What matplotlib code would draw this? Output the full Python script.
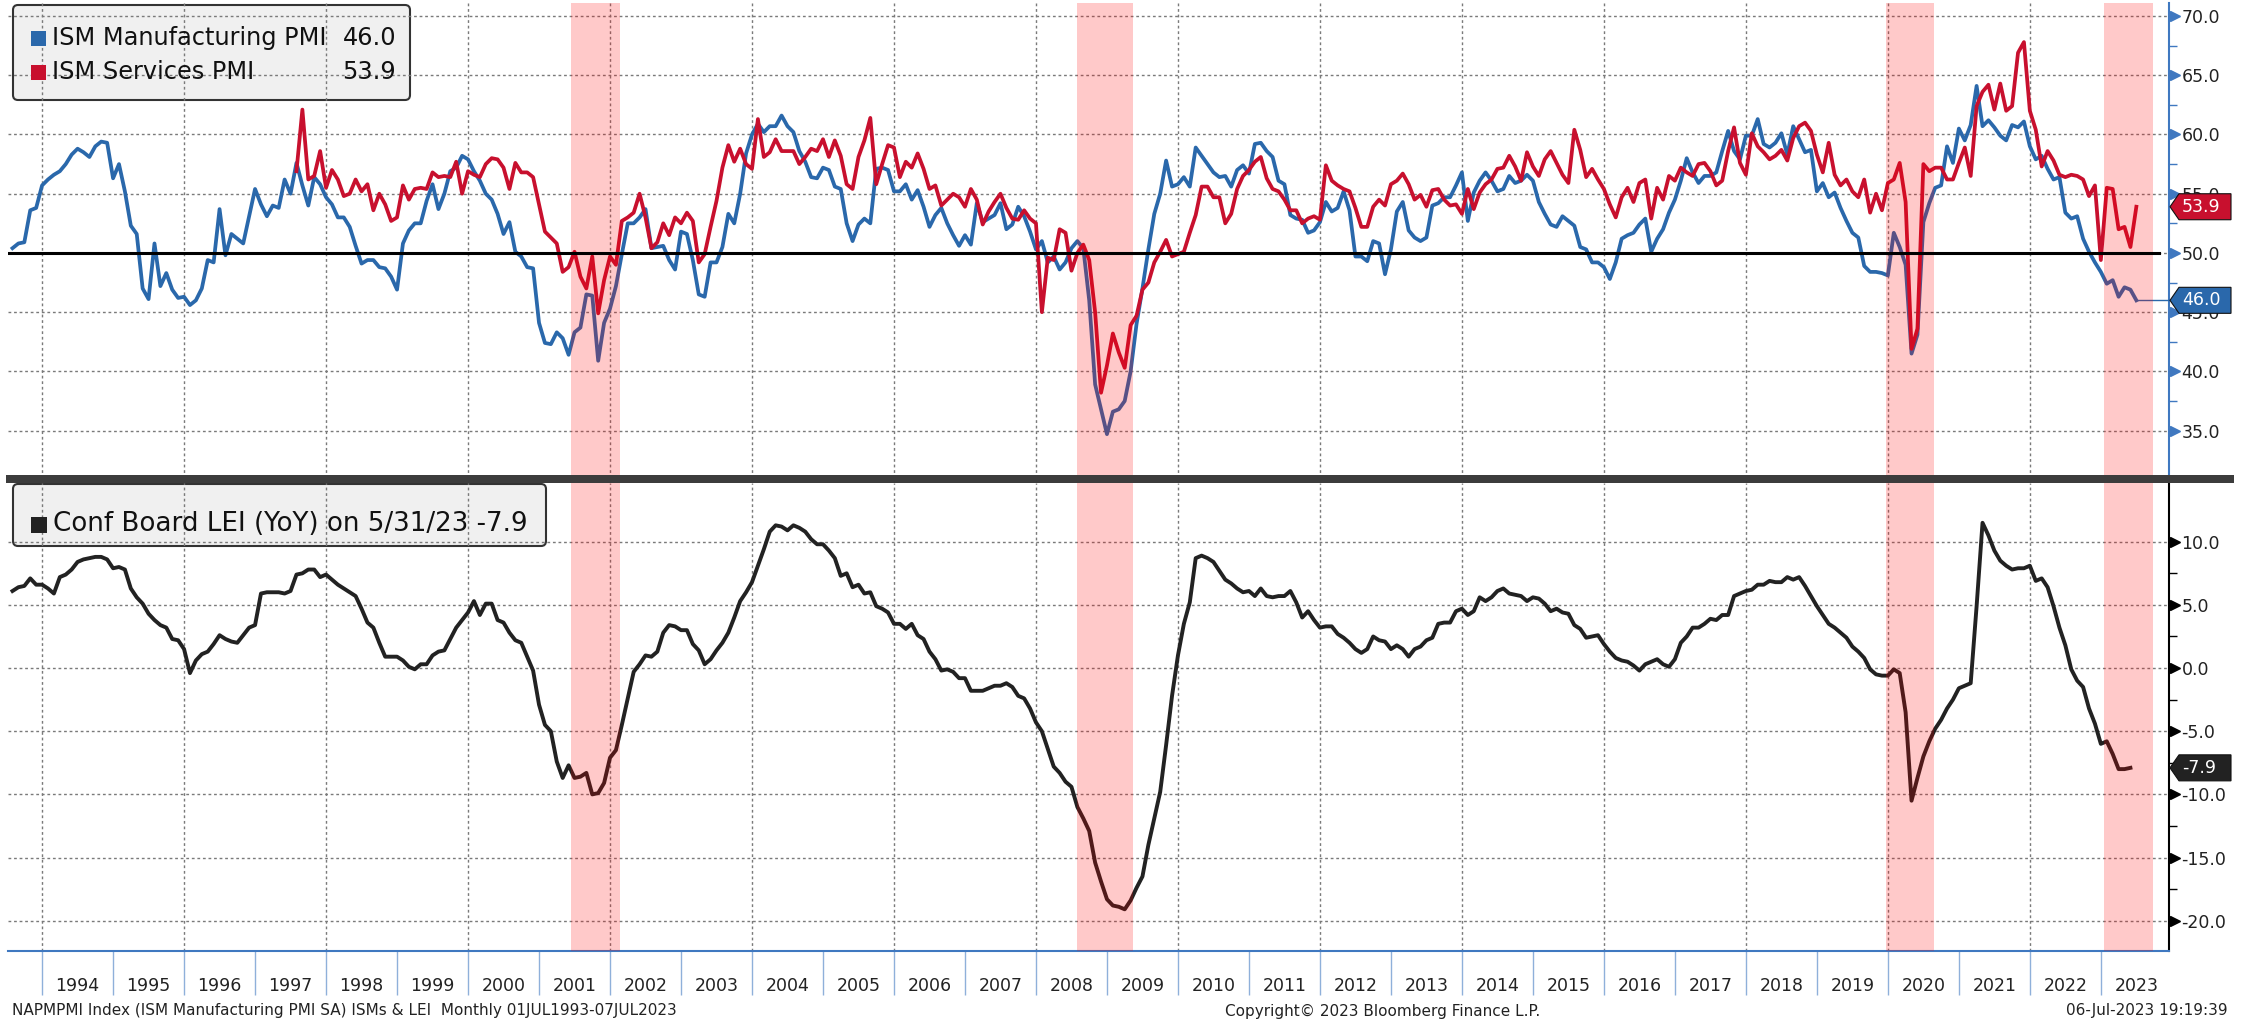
import numpy as np
import matplotlib.pyplot as plt
import matplotlib.transforms as mtransforms
from matplotlib.patches import Polygon, Rectangle, FancyBboxPatch

plt.rcParams['font.family'] = 'DejaVu Sans'
plt.rcParams['axes.unicode_minus'] = False

# monthly data, first point = Jul 1993
start = 1993 + 7 / 12.0

mfg = [50.4, 50.8, 50.9, 53.6, 53.8, 55.7, 56.2, 56.6, 56.9, 57.5, 58.3, 58.8, 58.5, 58.1, 59.0, 59.4,
       59.3, 56.3, 57.5, 55.2, 52.3, 51.6, 47.0, 46.1, 50.8, 47.2, 48.3, 46.9, 46.2, 46.3, 45.6, 46.0,
       47.0, 49.4, 49.2, 53.7, 49.8, 51.6, 51.2, 50.8, 53.1, 55.4, 54.1, 53.1, 54.0, 53.8, 56.2, 55.0,
       57.6, 55.7, 54.0, 56.4, 55.8, 54.7, 54.1, 53.0, 53.0, 52.2, 50.6, 49.1, 49.4, 49.4, 48.8, 48.7,
       48.0, 46.9, 50.8, 51.9, 52.5, 52.5, 54.4, 55.8, 53.7, 55.0, 56.9, 57.2, 58.2, 57.9, 56.9, 56.1,
       55.0, 54.5, 53.3, 51.6, 52.6, 50.1, 49.7, 48.8, 48.7, 44.1, 42.4, 42.3, 43.3, 42.8, 41.4, 43.3,
       43.7, 46.5, 46.4, 40.9, 44.1, 45.3, 47.2, 49.9, 52.5, 52.5, 53.0, 53.7, 50.4, 50.5, 50.6, 49.4,
       48.6, 51.8, 51.6, 49.4, 46.5, 46.3, 49.2, 49.2, 50.5, 53.3, 52.5, 55.0, 58.4, 60.0, 60.9, 60.2,
       60.7, 60.7, 61.6, 60.7, 60.2, 58.6, 57.7, 56.4, 56.3, 57.2, 57.0, 55.6, 55.4, 52.5, 51.0, 52.4,
       52.9, 52.5, 57.1, 57.2, 57.0, 55.2, 55.2, 55.8, 54.5, 55.3, 53.9, 52.2, 53.2, 53.8, 52.5, 51.5,
       50.6, 51.5, 50.7, 54.2, 52.6, 52.9, 53.2, 54.2, 52.0, 52.4, 53.9, 53.1, 51.8, 50.3, 51.0, 49.2,
       49.7, 48.6, 49.2, 50.4, 51.0, 50.4, 46.0, 38.9, 36.8, 34.7, 36.6, 36.8, 37.5, 40.0, 44.0, 47.0,
       50.3, 53.3, 55.0, 57.8, 55.6, 55.8, 56.4, 55.6, 58.9, 58.2, 57.5, 56.8, 56.4, 56.5, 55.6, 57.0,
       57.4, 56.7, 59.2, 59.3, 58.6, 58.1, 56.1, 55.8, 53.2, 52.9, 52.8, 51.7, 51.9, 52.6, 54.3, 53.5,
       53.8, 55.2, 53.6, 49.7, 49.7, 49.3, 51.0, 50.8, 48.2, 50.3, 53.5, 54.3, 51.9, 51.3, 51.0, 51.3,
       54.0, 54.2, 54.7, 54.7, 55.7, 56.8, 52.7, 55.1, 56.1, 56.8, 56.1, 55.2, 55.4, 56.5, 55.9, 56.1,
       56.6, 56.1, 54.3, 53.3, 52.4, 52.2, 53.1, 52.7, 52.3, 50.5, 50.3, 49.2, 49.2, 48.8, 47.8, 49.2,
       51.2, 51.5, 51.7, 52.4, 52.9, 50.1, 51.2, 52.0, 53.4, 54.5, 56.1, 58.0, 56.8, 55.9, 56.5, 56.5,
       56.8, 58.6, 60.3, 58.6, 57.9, 59.9, 59.9, 61.3, 59.2, 58.9, 59.3, 60.1, 58.3, 60.7, 59.6, 58.5,
       58.7, 55.2, 55.9, 54.7, 55.1, 53.8, 52.7, 51.7, 51.3, 48.9, 48.4, 48.4, 48.3, 48.1, 51.7, 50.5,
       49.0, 41.5, 43.1, 52.6, 54.2, 55.5, 55.7, 59.0, 57.6, 60.5, 59.5, 60.8, 64.1, 60.7, 61.2, 60.6,
       59.9, 59.5, 60.8, 60.6, 61.1, 59.0, 57.9, 58.2, 57.1, 56.2, 56.4, 53.4, 52.9, 53.1, 51.2, 50.1,
       49.2, 48.4, 47.4, 47.7, 46.3, 47.1, 46.9, 46.0]

# services start in Jul 1997 (48 months after the first point)
svc_offset = 48
svc = [56.9, 62.1, 56.2, 56.5, 58.6, 55.5, 57.0, 56.2, 54.8, 55.0, 56.2, 55.2, 55.8, 53.6, 55.0, 54.1,
       52.7, 53.0, 55.7, 54.5, 55.4, 55.5, 55.4, 56.8, 56.4, 56.5, 56.4, 57.7, 55.0, 56.9, 56.6, 56.4,
       57.5, 58.0, 57.9, 57.2, 55.4, 57.6, 56.8, 56.8, 56.4, 54.1, 51.8, 51.3, 50.8, 48.4, 48.8, 50.1,
       48.0, 47.0, 49.7, 44.9, 47.7, 49.7, 49.0, 52.7, 53.0, 53.4, 55.0, 53.0, 50.4, 50.9, 52.5, 51.5,
       53.0, 52.5, 53.4, 52.7, 49.2, 49.9, 52.2, 54.4, 57.2, 59.1, 57.7, 58.8, 57.5, 57.1, 61.3, 58.1,
       58.5, 59.6, 58.6, 58.6, 58.6, 57.5, 58.1, 58.8, 58.6, 59.6, 58.1, 59.5, 58.2, 55.8, 55.4, 58.1,
       59.5, 61.4, 55.8, 57.5, 59.1, 58.9, 56.4, 57.7, 57.2, 58.4, 57.1, 55.4, 55.7, 54.0, 54.5, 55.0,
       54.7, 53.9, 55.4, 54.5, 52.4, 53.5, 54.3, 55.0, 53.8, 52.9, 52.8, 53.6, 52.9, 52.5, 45.0, 49.6,
       49.4, 52.0, 51.7, 48.5, 50.0, 50.7, 49.4, 45.0, 38.2, 40.5, 43.2, 41.6, 40.3, 43.9, 44.7, 46.9,
       47.5, 49.2, 50.1, 51.1, 49.7, 49.9, 50.1, 51.7, 53.2, 55.6, 55.6, 54.7, 54.7, 52.5, 53.3, 55.4,
       56.5, 57.0, 57.7, 58.1, 56.3, 55.4, 55.2, 54.5, 53.6, 53.6, 52.5, 52.9, 53.1, 52.8, 57.4, 56.1,
       55.7, 55.4, 55.2, 53.8, 52.2, 52.2, 53.9, 54.5, 54.0, 55.8, 56.1, 56.7, 55.8, 54.5, 54.9, 53.9,
       55.3, 55.4, 54.5, 54.0, 54.1, 53.3, 55.4, 53.7, 55.1, 55.8, 56.2, 57.1, 57.2, 58.2, 57.3, 56.1,
       58.5, 57.3, 56.5, 57.9, 58.6, 57.6, 56.6, 55.9, 60.4, 58.7, 56.4, 57.1, 56.2, 55.4, 54.1, 53.0,
       54.7, 55.5, 54.3, 55.9, 56.2, 52.9, 55.5, 54.5, 56.5, 56.1, 57.2, 56.8, 56.5, 57.5, 57.6, 56.9,
       55.7, 56.1, 58.6, 60.6, 57.6, 56.6, 60.1, 59.0, 58.5, 57.9, 58.2, 58.7, 57.8, 59.7, 60.7, 61.0,
       60.3, 58.3, 56.8, 59.3, 56.6, 55.7, 56.2, 55.2, 54.7, 56.2, 53.4, 55.0, 53.6, 55.9, 56.2, 57.6,
       54.3, 41.9, 43.6, 57.5, 56.9, 57.2, 57.2, 56.2, 56.2, 57.6, 58.9, 56.5, 62.4, 63.6, 64.2, 62.1,
       64.3, 62.0, 62.4, 66.9, 67.8, 62.0, 60.4, 57.3, 58.6, 57.8, 56.6, 56.4, 56.6, 56.5, 56.2, 54.8,
       55.7, 49.4, 55.5, 55.4, 52.0, 52.2, 50.5, 53.9]

lei = [6.1, 6.4, 6.5, 7.1, 6.6, 6.6, 6.3, 5.9, 7.2, 7.4, 7.8, 8.4, 8.6, 8.7, 8.8, 8.8,
       8.6, 7.9, 8.0, 7.8, 6.3, 5.6, 5.1, 4.3, 3.8, 3.4, 3.2, 2.3, 2.2, 1.5, -0.4, 0.6,
       1.1, 1.3, 1.9, 2.6, 2.3, 2.1, 2.0, 2.6, 3.2, 3.4, 5.9, 6.0, 6.0, 6.0, 5.9, 6.1,
       7.4, 7.5, 7.8, 7.8, 7.2, 7.4, 7.0, 6.6, 6.3, 6.0, 5.7, 4.7, 3.6, 3.2, 2.0, 0.9,
       0.9, 0.9, 0.6, 0.1, -0.1, 0.3, 0.3, 1.0, 1.3, 1.4, 2.3, 3.2, 3.8, 4.4, 5.3, 4.2,
       5.1, 5.1, 3.8, 3.6, 2.8, 2.2, 2.0, 0.9, -0.2, -2.9, -4.5, -5.0, -7.4, -8.7, -7.7, -8.7,
       -8.6, -8.3, -10.0, -9.9, -9.1, -7.1, -6.5, -4.5, -2.4, -0.3, 0.3, 1.0, 0.9, 1.3, 2.8, 3.4,
       3.3, 3.0, 3.0, 1.9, 1.4, 0.3, 0.7, 1.4, 2.0, 2.8, 4.0, 5.3, 6.0, 6.8, 8.1, 9.4,
       10.8, 11.3, 11.2, 10.9, 11.3, 11.1, 10.8, 10.2, 9.8, 9.8, 9.3, 8.7, 7.3, 7.5, 6.4, 6.6,
       5.9, 6.0, 4.9, 4.7, 4.4, 3.5, 3.5, 3.1, 3.5, 2.6, 2.3, 1.3, 0.7, -0.2, -0.1, -0.3,
       -0.8, -0.8, -1.8, -1.8, -1.8, -1.6, -1.4, -1.4, -1.2, -1.5, -2.2, -2.4, -3.2, -4.3, -5.0, -6.4,
       -7.8, -8.3, -9.0, -9.4, -11.0, -11.9, -12.9, -15.4, -16.9, -18.3, -18.8, -18.9, -19.1, -18.4, -17.4, -16.5,
       -14.0, -11.9, -9.8, -6.1, -2.2, 1.0, 3.5, 5.2, 8.7, 8.9, 8.7, 8.4, 7.7, 7.0, 6.7, 6.3,
       6.0, 6.1, 5.7, 6.3, 5.7, 5.6, 5.7, 5.7, 6.1, 5.2, 4.0, 4.5, 3.8, 3.2, 3.3, 3.3,
       2.7, 2.4, 2.0, 1.5, 1.2, 1.5, 2.5, 2.2, 2.1, 1.5, 1.8, 1.5, 0.9, 1.5, 1.7, 2.2,
       2.4, 3.5, 3.6, 3.6, 4.5, 4.7, 4.2, 4.5, 5.6, 5.3, 5.6, 6.1, 6.3, 5.9, 5.8, 5.7,
       5.3, 5.6, 5.5, 5.1, 4.5, 4.7, 4.4, 4.3, 3.4, 3.1, 2.4, 2.5, 2.6, 1.9, 1.3, 0.8,
       0.6, 0.5, 0.2, -0.2, 0.3, 0.5, 0.7, 0.3, 0.1, 0.7, 2.0, 2.5, 3.2, 3.2, 3.5, 3.9,
       3.8, 4.2, 4.2, 5.7, 5.9, 6.1, 6.2, 6.6, 6.6, 6.9, 6.8, 6.8, 7.2, 7.0, 7.2, 6.5,
       5.7, 4.9, 4.2, 3.5, 3.2, 2.8, 2.4, 1.7, 1.3, 0.8, -0.1, -0.5, -0.6, -0.6, -0.1, -0.4,
       -3.5, -10.5, -8.7, -7.0, -5.8, -4.8, -4.1, -3.2, -2.5, -1.6, -1.4, -1.2, 4.9, 11.5, 10.5, 9.3,
       8.5, 8.1, 7.8, 7.9, 7.9, 8.1, 6.9, 7.1, 6.4, 4.9, 3.2, 1.8, -0.1, -1.0, -1.5, -3.2,
       -4.4, -6.0, -5.8, -6.8, -8.0, -8.0, -7.9]

# shaded periods (decimal years)
shade = [(2001.45, 2002.14), (2008.58, 2009.37), (2019.97, 2020.65), (2023.04, 2023.73)]
years = list(range(1994, 2024))

t_mfg = start + np.arange(len(mfg)) / 12.0
t_svc = start + (svc_offset + np.arange(len(svc))) / 12.0
t_lei = start + np.arange(len(lei)) / 12.0

BLUE = '#2a68ab'
RED = '#c8102e'
DARK = '#222222'
AXBLUE = '#3f78c0'

W, H = 2246, 1025
fig = plt.figure(figsize=(W / 100, H / 100), dpi=100)
ident = mtransforms.IdentityTransform()

def px(x, y):
    # pixel coords measured from top-left -> display coords
    return (x, H - y)

ax1 = fig.add_axes([8 / W, 1 - 478 / H, 2161 / W, 475 / H])
ax2 = fig.add_axes([8 / W, 1 - 951 / H, 2161 / W, 468 / H])
xl = (1993.52, 2023.96)

for ax, yt, ylim, scol in [(ax1, np.arange(35, 71, 5), (31.0, 71.1), AXBLUE),
                          (ax2, np.arange(-20, 11, 5), (-22.4, 14.65), 'black')]:
    ax.set_xlim(xl)
    ax.set_ylim(ylim)
    for s in ['top', 'left', 'bottom']:
        ax.spines[s].set_visible(False)
    ax.spines['right'].set_color(scol)
    ax.spines['right'].set_linewidth(1.5)
    ax.yaxis.tick_right()
    ax.set_yticks(yt)
    ax.set_yticklabels(['%.1f' % v for v in yt])
    ax.set_yticks(yt[:-1] + 2.5, minor=True)
    ax.tick_params(axis='y', which='major', length=0, pad=9, labelsize=12.5, labelcolor='#222222')
    ax.tick_params(axis='y', which='minor', length=6, width=1, color=scol)
    trans = mtransforms.blended_transform_factory(ax.transAxes, ax.transData)
    ax.plot(np.ones(len(yt)) * 1.003, yt, ls='none', marker='>', ms=7, color=scol,
            transform=trans, clip_on=False, zorder=6)
    for v in yt:
        ax.axhline(v, color='#7a7a7a', lw=1.0, ls=(0, (2, 2)), zorder=1.5)
    for yr in years[::2]:
        ax.axvline(yr, color='#7a7a7a', lw=1.0, ls=(0, (2, 2)), zorder=1.5)
    for a, b in shade:
        ax.axvspan(a, b, color='#ff0000', alpha=0.21, lw=0, zorder=4)

ax1.set_xticks([])
ax1.plot(t_mfg, mfg, color=BLUE, lw=2.7, zorder=3)
ax1.plot(t_svc, svc, color=RED, lw=2.7, zorder=3.2)
ax1.plot([xl[0], 2023.82], [50, 50], color='black', lw=2.2, zorder=5)
ax1.plot([t_mfg[-1], xl[1]], [mfg[-1], mfg[-1]], color=BLUE, lw=1, zorder=3, clip_on=False)

ax2.plot(t_lei, lei, color=DARK, lw=2.8, zorder=3)
ax2.spines['bottom'].set_visible(True)
ax2.spines['bottom'].set_color(AXBLUE)
ax2.spines['bottom'].set_linewidth(1.5)
ax2.set_xticks(years)
ax2.set_xticklabels([])
ax2.set_xticks([y + 0.5 for y in years], minor=True)
ax2.set_xticklabels([str(y) for y in years], minor=True)
ax2.tick_params(axis='x', which='major', length=32, width=1, color='#8fb0da')
ax2.tick_params(axis='x', which='minor', length=0, pad=19, labelsize=12.5, labelcolor='#222222')

# legend boxes (drawn under the grid)
def legend_box(ax, x0, y0, x1, y1):
    box = FancyBboxPatch(px(x0, y1), x1 - x0, y1 - y0, boxstyle='round,pad=0,rounding_size=5',
                         fc='#f0f0f0', ec='#333333', lw=1.5, transform=ident, zorder=1, clip_on=False)
    ax.add_patch(box)

legend_box(ax1, 13, 5, 410, 100)
for yc, col, name, val in [(38, BLUE, 'ISM Manufacturing PMI', '%.1f' % mfg[-1]),
                           (72, RED, 'ISM Services PMI', '%.1f' % svc[-1])]:
    ax1.add_patch(Rectangle(px(31, yc + 8), 15, 15, fc=col, ec='none', transform=ident,
                            zorder=6, clip_on=False))
    ax1.text(*px(52, yc), name, transform=ident, fontsize=17.3, va='center', ha='left',
             color='#111111', zorder=6)
    ax1.text(*px(396, yc), val, transform=ident, fontsize=17.3, va='center', ha='right',
             color='#111111', zorder=6)

legend_box(ax2, 13, 484, 546, 546)
ax2.add_patch(Rectangle(px(31, 525 + 8), 16, 16, fc=DARK, ec='none', transform=ident,
                        zorder=6, clip_on=False))
ax2.text(*px(53, 524), 'Conf Board LEI (YoY) on 5/31/23 %.1f' % lei[-1], transform=ident,
         fontsize=18.8, va='center', ha='left', color='#111111', zorder=6)

# separator between the panels
fig.add_artist(Rectangle(px(6, 483), 2228, 8, fc='#3c3c3c', ec='none', transform=ident, zorder=3))

# last value tags on the right
def tag(ax, x, v, col):
    yd = ax.transData.transform((x, v))[1]
    x0 = 2170
    pts = [(x0, yd), (x0 + 9, yd + 13), (2231, yd + 13), (2231, yd - 13), (x0 + 9, yd - 13)]
    fig.add_artist(Polygon(pts, closed=True, fc=col, ec='#111111', lw=0.8, transform=ident, zorder=5))
    fig.text(x0 + 12, yd, '%.1f' % v, transform=ident, color='white', fontsize=12.5,
             va='center', ha='left', zorder=6)

tag(ax1, t_svc[-1], svc[-1], RED)
tag(ax1, t_mfg[-1], mfg[-1], BLUE)
tag(ax2, t_lei[-1], lei[-1], DARK)

# footer
fig.text(*px(12, 1011), 'NAPMPMI Index (ISM Manufacturing PMI SA) ISMs & LEI  Monthly 01JUL1993-07JUL2023',
         transform=ident, fontsize=11, va='center', ha='left', color='#222222')
fig.text(*px(1225, 1011), 'Copyright\u00a9 2023 Bloomberg Finance L.P.', transform=ident,
         fontsize=11, va='center', ha='left', color='#222222')
fig.text(*px(2228, 1011), '06-Jul-2023 19:19:39', transform=ident, fontsize=11,
         va='center', ha='right', color='#222222')

fig.savefig('out.png', dpi=100)
